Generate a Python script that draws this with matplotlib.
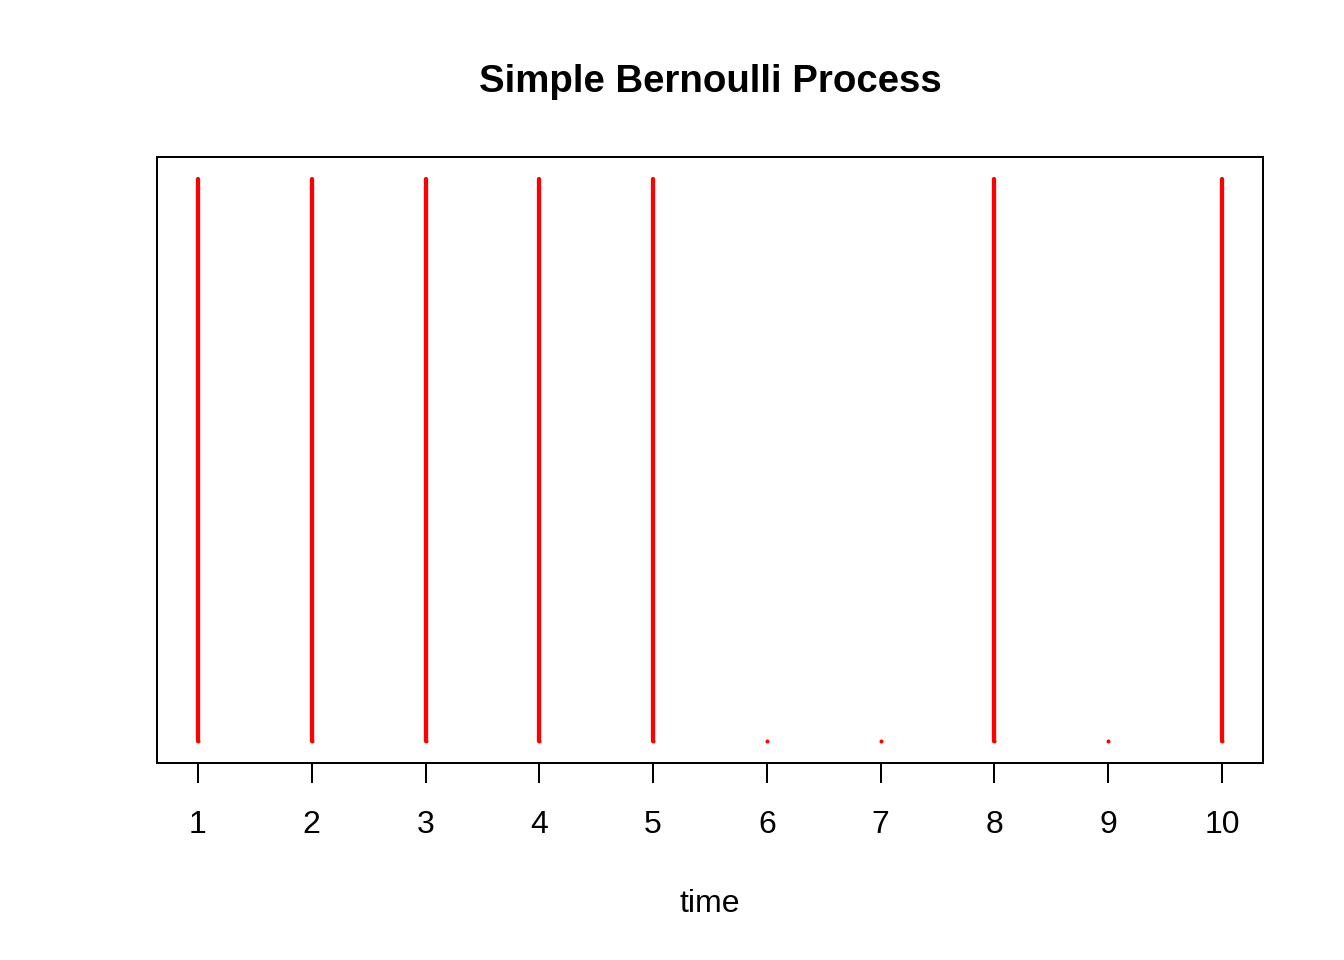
import matplotlib
matplotlib.use("Agg")
import matplotlib.pyplot as plt

# outcomes of the Bernoulli trials
times = [1, 2, 3, 4, 5, 6, 7, 8, 9, 10]
outcomes = [1, 1, 1, 1, 1, 0, 0, 1, 0, 1]

plt.rcParams['font.family'] = ['Liberation Sans', 'DejaVu Sans']

fig = plt.figure(figsize=(7, 5), dpi=192)
ax = fig.add_axes([157 / 1344, 1 - 763 / 960, 1106 / 1344, 606 / 960])

# type="h" style: line from 0 up to the value; zero-height lines show as a dot
for t, v in zip(times, outcomes):
    ax.plot([t, t], [0, v], color='red', lw=1.6, solid_capstyle='round')
ax.plot(times, [0] * len(times), linestyle='none', marker='o', markersize=1.5,
        color='red', markeredgewidth=0)

ax.set_xlim(0.64, 10.36)
ax.set_ylim(-0.04, 1.04)
ax.set_yticks([])
ax.set_xticks(times)
ax.set_xticklabels([str(t) for t in times], fontsize=12)
ax.tick_params(axis='x', length=7.5, width=0.75, pad=10)
for s in ax.spines.values():
    s.set_linewidth(0.75)
ax.set_xlabel('time', fontsize=12, labelpad=18.5)
fig.text(710 / 1344, 1 - 82 / 960, 'Simple Bernoulli Process', ha='center', va='center',
         fontsize=14.4, fontweight='bold')

fig.savefig('out.png', dpi=192)
